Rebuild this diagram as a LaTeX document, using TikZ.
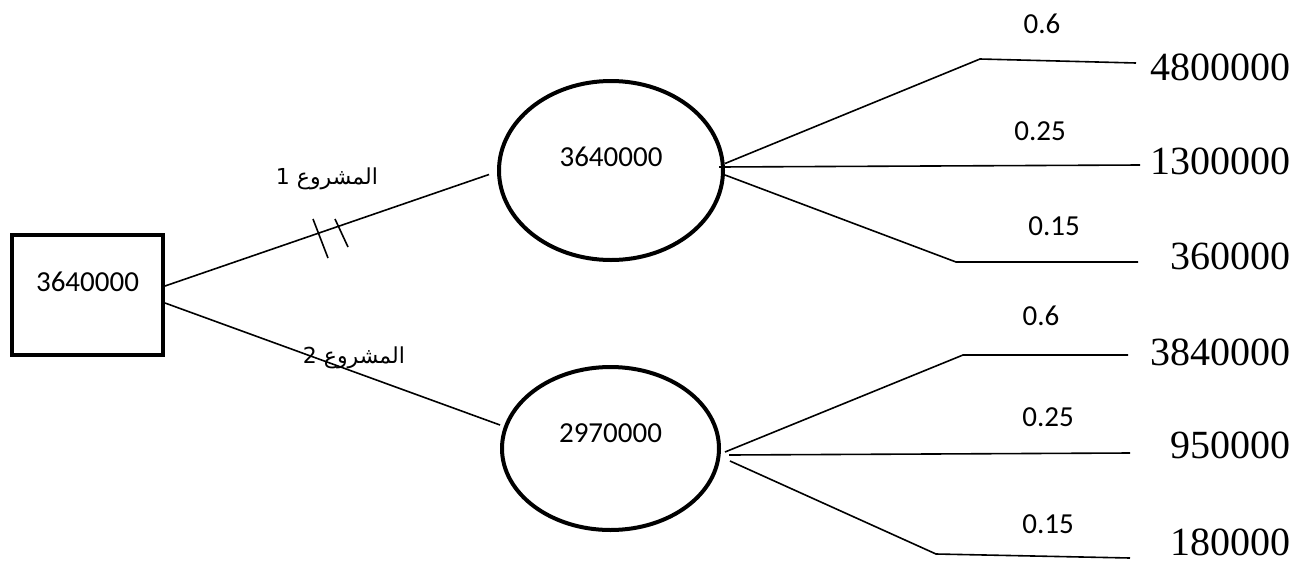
\documentclass[tikz,border=0pt]{standalone}
\usepackage{fontspec}
\setmainfont{Carlito}
\newfontfamily\payofffont{Liberation Serif}
\newfontfamily\arabicfont[Script=Arabic]{DejaVu Sans}
\TeXXeTstate=1
\usepackage{tikz}
\usetikzlibrary{calc,shapes}

\tikzset{
	decision/.style={draw,rectangle,line width=2pt,inner sep=0pt},
	chance/.style={draw,ellipse,line width=2pt,inner sep=0pt},
	branch/.style={line width=0.8pt},
	prob/.style={font=\fontsize{14.5}{17}\selectfont},
	payoff/.style={anchor=east,inner sep=0pt,font=\payofffont\fontsize{20}{24}\selectfont},
	project/.style={font=\arabicfont\fontsize{11}{13}\selectfont}
}

\begin{document}
\begin{tikzpicture}[x=0.5pt,y=-0.5pt,font=\fontsize{14.5}{17}\selectfont]
	\useasboundingbox (0,0) rectangle (1313,563);
	% decision node and the two chance nodes
	\node[decision,minimum width=75.5pt,minimum height=60pt,text depth=13.5pt] (dn) at (87.5,295) {3640000};
	\node[chance,minimum width=112pt,minimum height=89.5pt,text depth=13.5pt] (c1) at (611,170.5) {3640000};
	\node[chance,minimum width=108.5pt,minimum height=81.5pt,text depth=15.5pt] (c2) at (610.5,448.5) {2970000};
	% the two projects
	\draw[branch] ([yshift=4.5pt]dn.east) -- ([xshift=-4pt,yshift=-2pt]c1.west);
	\draw[branch] ([yshift=-4pt]dn.east) -- ([yshift=11.75pt]c2.west);
	\draw[branch] (313,219) -- (328,258);
	\draw[branch] (335,219) -- (348,247);
	\node[project] (p1) at (327,179) {\beginR المشروع 1\endR};
	\node[project] (p2) at (354,358) {\beginR المشروع 2\endR};
	% end points of the branches
	\coordinate (a1) at (980,59);	\coordinate (e1) at (1136,63);
	\coordinate (e2) at (1140,165);
	\coordinate (a3) at (956,262);	\coordinate (e3) at (1138,262);
	\coordinate (b1) at (963,355);	\coordinate (f1) at (1128,355);
	\coordinate (f2) at (1130,453);
	\coordinate (b3) at (936,554);	\coordinate (f3) at (1130,558);
	% branches of project 1
	\draw[branch] ([yshift=3.5pt]c1.east) -- (a1) -- (e1);
	\draw[branch] ([xshift=-3pt,yshift=1.75pt]c1.east) -- (e2);
	\draw[branch] ([yshift=-2.25pt]c1.east) -- (a3) -- (e3);
	\node[prob] (q1) at (1042,23.5) {0.6};
	\node[prob] (q2) at (1040,131) {0.25};
	\node[prob] (q3) at (1054,226) {0.15};
	\node[payoff] (v1) at (1291,67.5) {4800000};
	\node[payoff] (v2) at (1291,161.5) {1300000};
	\node[payoff] (v3) at (1291,256.5) {360000};
	% branches of project 2
	\draw[branch] ([xshift=2pt,yshift=-1.75pt]c2.east) -- (b1) -- (f1);
	\draw[branch] ([xshift=4pt,yshift=-3.25pt]c2.east) -- (f2);
	\draw[branch] ([xshift=4.5pt,yshift=-6.25pt]c2.east) -- (b3) -- (f3);
	\node[prob] (r1) at (1041,316) {0.6};
	\node[prob] (r2) at (1048,417) {0.25};
	\node[prob] (r3) at (1048,524) {0.15};
	\node[payoff] (w1) at (1291,352) {3840000};
	\node[payoff] (w2) at (1291,445) {950000};
	\node[payoff] (w3) at (1291,542) {180000};
\end{tikzpicture}
\end{document}
